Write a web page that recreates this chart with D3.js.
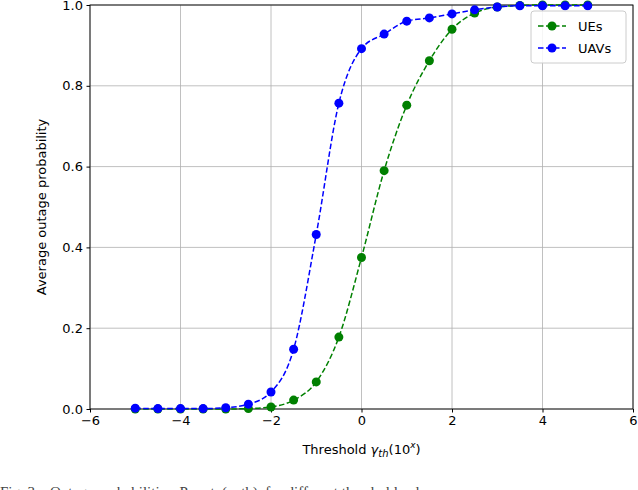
<!DOCTYPE html><html><head><script src="https://cdn.jsdelivr.net/npm/d3@7"></script>
<style>body{margin:0;background:#fff}</style></head><body><svg id="c" width="638" height="490"></svg><script>
const xs=[-5,-4.5,-4,-3.5,-3,-2.5,-2,-1.5,-1,-0.5,0,0.5,1,1.5,2,2.5,3,3.5,4,4.5,5];
const ues=[0,0,0,0,0,0.001,0.005,0.022,0.067,0.178,0.375,0.59,0.752,0.862,0.94,0.98,0.995,0.999,1,1,1];
const uavs=[0.002,0.001,0.001,0.001,0.003,0.012,0.042,0.148,0.432,0.757,0.892,0.928,0.96,0.968,0.978,0.988,0.995,0.998,0.998,0.998,0.998];
const xTicks=[-6,-4,-2,0,2,4,6], yTicks=[0,0.2,0.4,0.6,0.8,1.0];
const svg=d3.select("#c"),L=90,R=633,T=5,B=409;
const x=d3.scaleLinear().domain([-6,6]).range([L,R]),y=d3.scaleLinear().domain([0,1]).range([B,T]);
const f="DejaVu Sans, sans-serif";
const g=svg.append("g");
xTicks.forEach(t=>g.append("line").attr("x1",x(t)).attr("x2",x(t)).attr("y1",T).attr("y2",B).attr("stroke","#b0b0b0").attr("stroke-width",0.8));
yTicks.forEach(t=>g.append("line").attr("y1",y(t)).attr("y2",y(t)).attr("x1",L).attr("x2",R).attr("stroke","#b0b0b0").attr("stroke-width",0.8));
const ax=svg.append("g").attr("transform",`translate(0,${B})`).call(d3.axisBottom(x).tickValues(xTicks).tickFormat(d=>d<0?"\u2212"+(-d):d).tickSizeOuter(0).tickSize(3.5).tickPadding(3.5));
const ay=svg.append("g").attr("transform",`translate(${L},0)`).call(d3.axisLeft(y).tickValues(yTicks).tickFormat(d3.format(".1f")).tickSizeOuter(0).tickSize(3.5).tickPadding(3.5));
[ax,ay].forEach(a=>{a.selectAll("text").attr("font-family",f).attr("font-size",13).attr("fill","#000");a.select(".domain").remove();a.selectAll("line").attr("stroke","#000")});
svg.append("rect").attr("x",L).attr("y",T).attr("width",R-L).attr("height",B-T).attr("fill","none").attr("stroke","#000").attr("stroke-width",0.9);
const clip=svg.append("defs").append("clipPath").attr("id","cp").append("rect").attr("x",L).attr("y",T-8).attr("width",R-L+8).attr("height",B-T+16);
const series=[{n:"UEs",d:ues,c:"green"},{n:"UAVs",d:uavs,c:"blue"}];
const line=d3.line().x((d,i)=>x(xs[i])).y(d=>y(d)).curve(d3.curveMonotoneX);
series.forEach(s=>{const gg=svg.append("g").attr("clip-path","url(#cp)");
gg.append("path").attr("d",line(s.d)).attr("fill","none").attr("stroke",s.c).attr("stroke-width",1.5).attr("stroke-dasharray","5.5,2.5");
gg.selectAll("circle").data(s.d).join("circle").attr("cx",(d,i)=>x(xs[i])).attr("cy",d=>y(d)).attr("r",4.5).attr("fill",s.c);});
const lg=svg.append("g");
lg.append("rect").attr("x",531).attr("y",11).attr("width",95).attr("height",52).attr("rx",3).attr("fill","#fff").attr("fill-opacity",0.85).attr("stroke","#ccc");
series.forEach((s,i)=>{const yy=26+i*22;
lg.append("line").attr("x1",538).attr("x2",566).attr("y1",yy).attr("y2",yy).attr("stroke",s.c).attr("stroke-width",1.5).attr("stroke-dasharray","5.5,2.5");
lg.append("circle").attr("cx",552).attr("cy",yy).attr("r",4.5).attr("fill",s.c);
lg.append("text").attr("x",578).attr("y",yy+4.5).text(s.n).attr("font-family",f).attr("font-size",13);});
const xl=svg.append("text").attr("x",(L+R)/2).attr("y",454).attr("text-anchor","middle").attr("font-family",f).attr("font-size",13);
xl.append("tspan").text("Threshold ");xl.append("tspan").text("γ").attr("font-style","italic");
xl.append("tspan").text("th").attr("font-style","italic").attr("font-size",10).attr("dy",3);
xl.append("tspan").text("(10").attr("dy",-3);xl.append("tspan").text("x").attr("font-style","italic").attr("font-size",9).attr("dy",-6);xl.append("tspan").text(")").attr("dy",6);
svg.append("text").attr("transform",`translate(46,${(T+B)/2}) rotate(-90)`).attr("text-anchor","middle").attr("font-family",f).attr("font-size",13).text("Average outage probability");
svg.append("text").attr("x",0).attr("y",497).attr("font-family","Liberation Serif, serif").attr("font-size",15).attr("fill","#444").attr("xml:space","preserve").text("Fig. 3.   Outage probabilities  P_out  (γ_th)  for different threshold values");
</script></body></html>
